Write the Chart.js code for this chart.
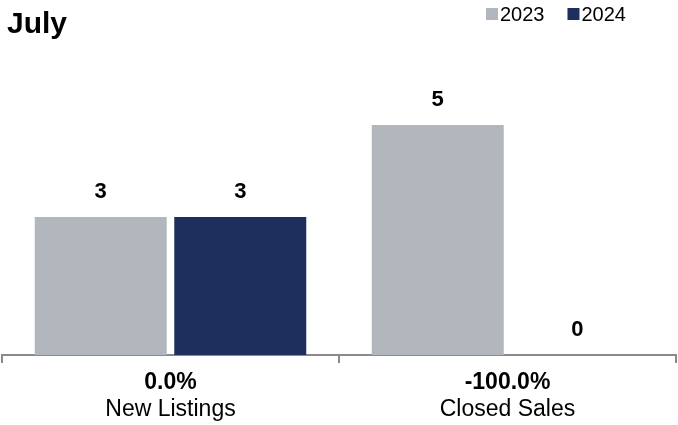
<!DOCTYPE html>
<html lang="en">
<head>
<meta charset="UTF-8" />
<title>July</title>
<script src="https://cdn.jsdelivr.net/npm/chart.js"></script>
<style>
  html, body { margin: 0; padding: 0; background: #fff; }
  #wrap { width: 678px; height: 425px; position: relative; }
</style>
</head>
<body>
<div id="wrap"><canvas id="c"></canvas></div>
<script>
// datos del gráfico
const categories = ['New Listings', 'Closed Sales'];
const changes = ['0.0%', '-100.0%'];
const seriesNames = ['2023', '2024'];
const values2023 = [3, 5];
const values2024 = [3, 0];
const colors = ['#b1b7bd', '#1f2f5d'];
const FONT = '"Liberation Sans", Arial, sans-serif';

// titulo, leyenda, etiquetas y textos de categoria
const extras = {
  id: 'extras',
  afterDatasetsDraw(chart) {
    const ctx = chart.ctx;
    ctx.save();
    // etiquetas de valor
    ctx.fillStyle = '#000';
    ctx.font = 'bold 22px ' + FONT;
    ctx.textAlign = 'center';
    ctx.textBaseline = 'bottom';
    chart.data.datasets.forEach((ds, di) => {
      chart.getDatasetMeta(di).data.forEach((bar, i) => {
        ctx.fillText(String(ds.data[i]), bar.x, bar.y - 14);
      });
    });
    // textos bajo el eje
    const xs = chart.scales.x;
    categories.forEach((c, i) => {
      const x = xs.getPixelForTick(i);
      ctx.textBaseline = 'middle';
      ctx.font = 'bold 23px ' + FONT;
      ctx.fillText(changes[i], x, 383);
      ctx.font = '23px ' + FONT;
      ctx.fillText(c, x, 410);
    });
    // titulo
    ctx.textAlign = 'left';
    ctx.font = 'bold 30px ' + FONT;
    ctx.fillText('July', 7, 25);
    // leyenda
    ctx.font = '20px ' + FONT;
    let lx = 486;
    seriesNames.forEach((s, i) => {
      ctx.fillStyle = colors[i];
      ctx.fillRect(lx, 8, 12, 12);
      ctx.fillStyle = '#000';
      ctx.fillText(s, lx + 14, 15);
      lx += 14 + ctx.measureText(s).width + 23;
    });
    ctx.restore();
  }
};

new Chart(document.getElementById('c').getContext('2d'), {
  type: 'bar',
  data: {
    labels: categories,
    datasets: [
      { label: seriesNames[0], data: values2023, backgroundColor: colors[0] },
      { label: seriesNames[1], data: values2024, backgroundColor: colors[1] }
    ]
  },
  options: {
    responsive: true,
    maintainAspectRatio: false,
    animation: false,
    layout: { padding: { left: 2, right: 2, top: 79, bottom: 62 } },
    datasets: { bar: { categoryPercentage: 0.828, barPercentage: 0.946 } },
    scales: {
      x: {
        grid: { drawOnChartArea: false, color: '#8a8a8a', lineWidth: 2, tickLength: 8 },
        border: { color: '#8a8a8a', width: 2 },
        ticks: { display: false }
      },
      y: { display: false, min: 0, max: 6 }
    },
    plugins: { legend: { display: false }, tooltip: { enabled: false } }
  },
  plugins: [extras]
});
</script>
</body>
</html>
